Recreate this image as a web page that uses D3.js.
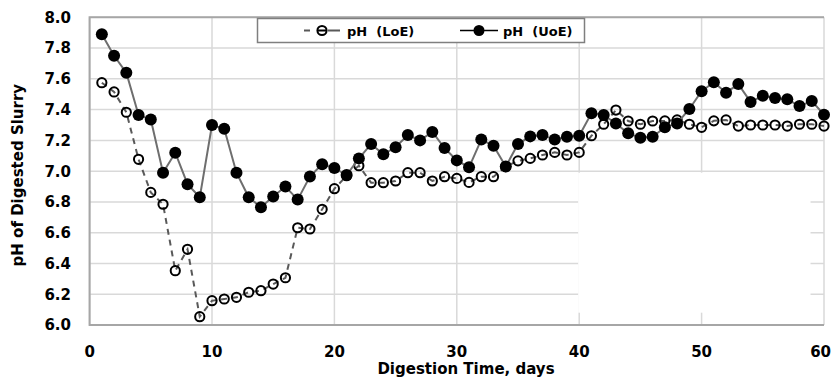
<!doctype html>
<html>
  <head>
    <script src="https://cdn.jsdelivr.net/npm/d3@7"></script>
    <style>
      body { margin: 0; background: #fff; }
      text { font-family: "DejaVu Sans", sans-serif; font-weight: bold; fill: #000; }
    </style>
  </head>
  <body>
    <div id="chart"></div>
    <script>
      // digestion days 1..60
      var days = d3.range(1, 61);

      // pH of digested slurry, lower end (LoE)
      var phLoE = [7.575, 7.515, 7.383, 7.077, 6.862, 6.785, 6.353, 6.492, 6.054, 6.158,
                   6.169, 6.180, 6.213, 6.223, 6.266, 6.307, 6.632, 6.624, 6.752, 6.886,
                   6.970, 7.035, 6.925, 6.925, 6.936, 6.990, 6.990, 6.936, 6.964, 6.953,
                   6.927, 6.964, 6.964, 7.030, 7.067, 7.083, 7.105, 7.122, 7.105, 7.122,
                   7.230, 7.305, 7.397, 7.326, 7.305, 7.326, 7.327, 7.333, 7.305, 7.285,
                   7.327, 7.333, 7.293, 7.300, 7.300, 7.300, 7.293, 7.305, 7.305, 7.293];

      // pH of digested slurry, upper end (UoE)
      var phUoE = [7.890, 7.750, 7.640, 7.365, 7.335, 6.990, 7.120, 6.915, 6.830, 7.300,
                   7.275, 6.990, 6.830, 6.765, 6.835, 6.900, 6.815, 6.965, 7.045, 7.020,
                   6.975, 7.083, 7.176, 7.110, 7.155, 7.235, 7.200, 7.255, 7.150, 7.070,
                   7.025, 7.205, 7.165, 7.030, 7.176, 7.226, 7.235, 7.205, 7.224, 7.230,
                   7.376, 7.365, 7.310, 7.246, 7.217, 7.224, 7.285, 7.310, 7.404, 7.520,
                   7.578, 7.510, 7.566, 7.450, 7.490, 7.475, 7.467, 7.423, 7.456, 7.367];

      var xTicks = [0, 10, 20, 30, 40, 50, 60];
      var yTicks = [6.0, 6.2, 6.4, 6.6, 6.8, 7.0, 7.2, 7.4, 7.6, 7.8, 8.0];

      var W = 832, H = 380;
      var svg = d3.select("#chart").append("svg")
        .attr("width", W).attr("height", H);

      var x = d3.scaleLinear().domain([0, 60]).range([89.6, 824]);
      var y = d3.scaleLinear().domain([6, 8]).range([325, 17.3]);

      // gridlines
      svg.append("g").selectAll("line.h")
        .data(yTicks).enter().append("line")
          .attr("x1", x(0)).attr("x2", x(60))
          .attr("y1", function(d) { return y(d); })
          .attr("y2", function(d) { return y(d); })
          .attr("stroke", "#d9d9d9").attr("stroke-width", 1.5);
      svg.append("g").selectAll("line.v")
        .data(xTicks).enter().append("line")
          .attr("x1", function(d) { return x(d); })
          .attr("x2", function(d) { return x(d); })
          .attr("y1", y(8)).attr("y2", y(6))
          .attr("stroke", "#d9d9d9").attr("stroke-width", 1.5);

      // blank patch over the grid in the lower right
      svg.append("rect")
        .attr("x", x(40) - 1).attr("y", y(6.99))
        .attr("width", x(58.9) - x(40) + 1).attr("height", y(6.08) - y(6.99))
        .attr("fill", "#fff");

      // plot frame
      svg.append("path")
        .attr("d", "M" + x(60) + "," + y(8) + "H" + x(0) + "V" + y(6) + "H" + x(60))
        .attr("fill", "none").attr("stroke", "#a6a6a6").attr("stroke-width", 2);

      // axis tick labels
      svg.append("g").selectAll("text")
        .data(yTicks).enter().append("text")
          .attr("x", 71).attr("y", function(d) { return y(d); })
          .attr("dy", "0.36em").attr("text-anchor", "end")
          .style("font-size", "15px")
          .text(function(d) { return d.toFixed(1); });
      svg.append("g").selectAll("text")
        .data(xTicks).enter().append("text")
          // last label would run off the page edge, so pin it to the right
          .attr("x", function(d) { return d === 60 ? W - 1 : x(d); }).attr("y", 357)
          .attr("text-anchor", function(d) { return d === 60 ? "end" : "middle"; })
          .style("font-size", "15px")
          .text(function(d) { return d; });

      // axis titles
      svg.append("text")
        .attr("x", 466).attr("y", 374).attr("text-anchor", "middle")
        .style("font-size", "15px")
        .text("Digestion Time, days");
      svg.append("text")
        .attr("transform", "translate(23," + ((y(6) + y(8)) / 2 + 4) + ") rotate(-90)")
        .attr("text-anchor", "middle")
        .style("font-size", "15px")
        .text("pH of Digested Slurry");

      var lineLoE = d3.line()
        .x(function(d, i) { return x(days[i]); })
        .y(function(d) { return y(d); });

      // LoE series: dashed line, open circles
      svg.append("path").datum(phLoE)
        .attr("d", lineLoE)
        .attr("fill", "none").attr("stroke", "#595959")
        .attr("stroke-width", 2).attr("stroke-dasharray", "6,5");
      svg.append("g").selectAll("circle")
        .data(phLoE).enter().append("circle")
          .attr("cx", function(d, i) { return x(days[i]); })
          .attr("cy", function(d) { return y(d); })
          .attr("r", 4.6)
          .attr("fill", "none").attr("stroke", "#000").attr("stroke-width", 2);

      // UoE series: solid line, filled circles
      svg.append("path").datum(phUoE)
        .attr("d", lineLoE)
        .attr("fill", "none").attr("stroke", "#6e6e6e").attr("stroke-width", 2);
      svg.append("g").selectAll("circle")
        .data(phUoE).enter().append("circle")
          .attr("cx", function(d, i) { return x(days[i]); })
          .attr("cy", function(d) { return y(d); })
          .attr("r", 6)
          .attr("fill", "#000");

      // legend
      var lg = svg.append("g");
      lg.append("rect")
        .attr("x", 257.5).attr("y", 18.5).attr("width", 327).attr("height", 24)
        .attr("fill", "#fff").attr("stroke", "#7f7f7f").attr("stroke-width", 1.5);
      lg.append("line")
        .attr("x1", 304).attr("x2", 340).attr("y1", 30.5).attr("y2", 30.5)
        .attr("stroke", "#595959").attr("stroke-width", 2).attr("stroke-dasharray", "6,18,12");
      lg.append("circle")
        .attr("cx", 322).attr("cy", 30.5).attr("r", 4.6)
        .attr("fill", "none").attr("stroke", "#000").attr("stroke-width", 2);
      lg.append("line")
        .attr("x1", 318).attr("x2", 326).attr("y1", 30.5).attr("y2", 30.5)
        .attr("stroke", "#000").attr("stroke-width", 2);
      lg.append("text")
        .attr("x", 347).attr("y", 35.5).style("font-size", "13px")
        .attr("xml:space", "preserve")
        .text("pH  (LoE)");
      lg.append("line")
        .attr("x1", 460).attr("x2", 498).attr("y1", 30.5).attr("y2", 30.5)
        .attr("stroke", "#000").attr("stroke-width", 1.5);
      lg.append("circle")
        .attr("cx", 479).attr("cy", 30.5).attr("r", 5.5)
        .attr("fill", "#000");
      lg.append("text")
        .attr("x", 503).attr("y", 35.5).style("font-size", "13px")
        .attr("xml:space", "preserve")
        .text("pH  (UoE)");
    </script>
  </body>
</html>
